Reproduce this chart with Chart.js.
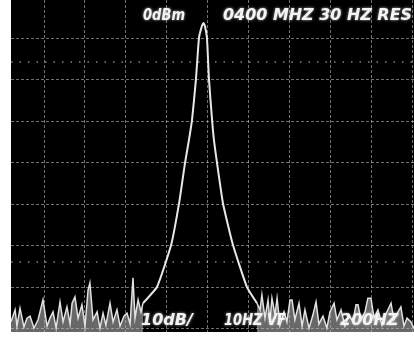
<!DOCTYPE html>
<html>
<head>
<meta charset="utf-8">
<script src="https://cdn.jsdelivr.net/npm/chart.js@4"></script>
<style>
  body { margin: 0; background: #fff; }
  #wrap { width: 414px; height: 337px; }
</style>
</head>
<body>
<div id="wrap"><canvas id="chart"></canvas></div>
<script>
// frequency offset from centre (Hz) and level (dBm), 200 Hz/div, 10 dB/div
let xGrid = [-800, -600, -400, -200, 0, 200, 400, 600, 800, 1000]
let yGrid = [-80, -70, -60, -50, -40, -30, -20, -10]

let noiseLeftHz = [-961, -941, -932, -917, -898, -883, -868, -849, -829, -805, -785, -771, -756, -741, -722, -707, -688, -673, -663, -649, -634, -615, -600, -585, -576, -561, -541, -527, -512, -498, -478, -463, -444, -429, -410, -395, -380, -366, -356, -341, -327, -317]
let noiseLeftDb = [-78.4, -75.5, -79.4, -75.1, -79.6, -77.5, -77.0, -79.9, -77.9, -73.1, -79.4, -77.5, -76.0, -79.9, -73.6, -78.4, -74.8, -78.9, -73.9, -72.4, -77.5, -74.3, -79.4, -70.7, -69.0, -77.9, -76.0, -79.9, -76.3, -79.2, -73.9, -78.4, -75.5, -79.4, -77.0, -76.3, -78.9, -67.8, -77.5, -73.1, -76.0, -73.9]

let traceHz = [-317, -249, -180, -141, -112, -93, -78, -59, -44, -29, -22, -15, -5, 5, 20, 29, 44, 73, 122, 190, 239]
let traceDb = [-73.9, -70.0, -59.9, -49.8, -40.1, -34.6, -29.8, -20.1, -10.0, -7.0, -6.4, -7.1, -10.0, -20.1, -29.8, -34.6, -40.1, -49.8, -59.9, -70.0, -73.9]

let noiseRightHz = [239, 254, 263, 278, 293, 302, 312, 327, 337, 351, 371, 385, 400, 410, 424, 444, 459, 473, 493, 512, 527, 541, 561, 580, 595, 615, 629, 649, 668, 688, 707, 722, 732, 746, 766, 780, 795, 810, 829, 849, 868, 893, 907, 927, 941, 956, 971, 990, 1005]
let noiseRightDb = [-73.9, -75.5, -71.9, -77.5, -73.1, -78.4, -72.7, -76.7, -72.7, -79.2, -76.0, -78.4, -73.1, -73.1, -77.9, -73.9, -79.4, -75.5, -79.9, -76.7, -73.6, -78.9, -77.0, -79.9, -76.0, -73.9, -77.9, -75.5, -79.4, -76.7, -78.4, -74.3, -74.3, -77.9, -76.0, -72.7, -72.7, -77.5, -75.5, -79.2, -76.5, -73.9, -77.9, -76.0, -74.8, -79.4, -77.5, -78.4, -79.9]

let markerDb = [-15.8, -64]

let topLabels = ['0dBm', '0400 MHZ 30 HZ RES']
let bottomLabels = ['10dB/', '10HZ VF', '200HZ']

function toPoints(xs, ys) {
    const result = [];
    for (let i = 0; i < xs.length; i++) {
        result.push({ x: xs[i], y: ys[i] });
    }
    return result;
}

const screenPlugin = {
    id: 'screen',
    beforeDraw(chart) {
        const { ctx, chartArea } = chart;
        ctx.save();
        ctx.fillStyle = '#000';
        ctx.fillRect(chartArea.left, chartArea.top, chartArea.right - chartArea.left, chartArea.bottom - chartArea.top);
        ctx.restore();
    },
    afterDraw(chart) {
        const ctx = chart.ctx;
        ctx.save();
        ctx.font = 'italic bold 16px "DejaVu Sans"';
        ctx.fillStyle = '#f4f4f4';
        ctx.shadowColor = 'rgba(255,255,255,0.7)';
        ctx.shadowBlur = 3;
        ctx.textBaseline = 'alphabetic';
        ctx.fillText(topLabels[0], 143, 20, 42);
        ctx.fillText(topLabels[1], 223, 20, 189);
        ctx.fillText(bottomLabels[0], 141, 325, 52);
        ctx.fillText(bottomLabels[1], 224, 325, 62);
        ctx.fillText(bottomLabels[2], 340, 325, 67);
        ctx.restore();
    }
};

const gridOpts = {
    color: 'rgba(225,225,225,0.5)',
    lineWidth: 1,
    drawTicks: false
};

const data = {
    datasets: [
        {
            data: toPoints(noiseLeftHz, noiseLeftDb),
            borderColor: 'rgb(225,225,225)',
            backgroundColor: 'rgba(190,190,190,0.55)',
            borderWidth: 1.5,
            fill: 'start'
        },
        {
            data: toPoints(traceHz, traceDb),
            borderColor: 'rgb(232,232,232)',
            borderWidth: 2,
            tension: 0.15,
            fill: false
        },
        {
            data: toPoints(noiseRightHz, noiseRightDb),
            borderColor: 'rgb(225,225,225)',
            backgroundColor: 'rgba(190,190,190,0.55)',
            borderWidth: 1.5,
            fill: 'start'
        },
        {
            data: toPoints([-961, 1005], [markerDb[0], markerDb[0]]),
            borderColor: 'rgba(220,220,220,0.6)',
            borderWidth: 1.5,
            borderDash: [1.5, 7],
            fill: false
        },
        {
            data: toPoints([-961, 1005], [markerDb[1], markerDb[1]]),
            borderColor: 'rgba(220,220,220,0.6)',
            borderWidth: 1.5,
            borderDash: [1.5, 7],
            fill: false
        }
    ]
};

const config = {
    type: 'scatter',
    data: data,
    options: {
        responsive: true,
        maintainAspectRatio: false,
        animation: false,
        showLine: true,
        elements: {
            point: { radius: 0 },
            line: { tension: 0 }
        },
        layout: {
            padding: { left: 11, right: 0, top: 0, bottom: 5 }
        },
        plugins: {
            legend: { display: false },
            tooltip: { enabled: false }
        },
        scales: {
            x: {
                type: 'linear',
                min: -961,
                max: 1005,
                afterBuildTicks: scale => { scale.ticks = xGrid.map(v => ({ value: v })) },
                ticks: { display: false },
                grid: gridOpts,
                border: { display: false, dash: [3, 2] }
            },
            y: {
                type: 'linear',
                min: -80.84,
                max: -0.84,
                afterBuildTicks: scale => { scale.ticks = yGrid.map(v => ({ value: v })) },
                ticks: { display: false },
                grid: gridOpts,
                border: { display: false, dash: [3, 2] }
            }
        }
    },
    plugins: [screenPlugin]
};

let myChart = new Chart(document.getElementById('chart'), config);
</script>
</body>
</html>
